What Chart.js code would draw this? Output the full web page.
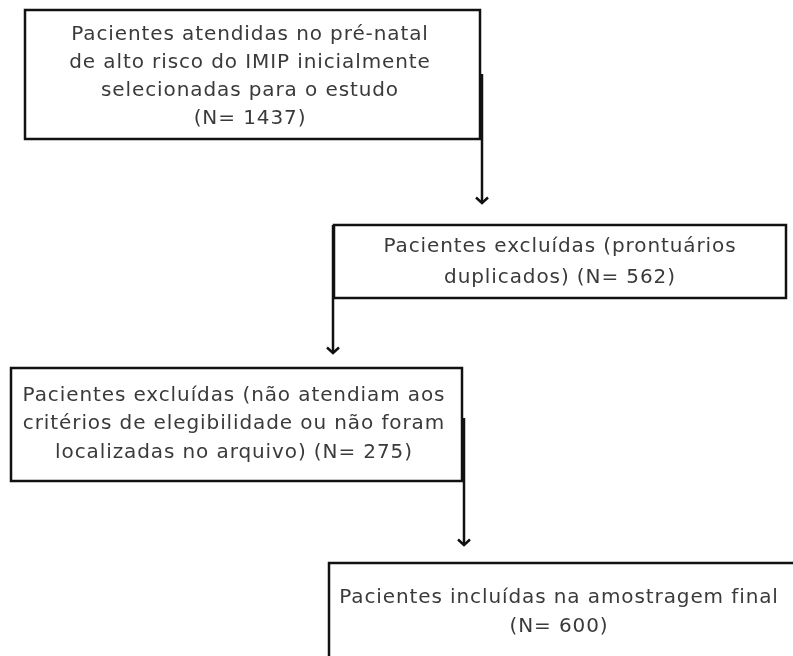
<!DOCTYPE html>
<html>
<head>
<meta charset="utf-8">
<script src="https://cdn.jsdelivr.net/npm/chart.js@4.4.1/dist/chart.umd.min.js"></script>
<style>
    html, body { margin: 0; padding: 0; background: #fff; }
    #wrap { width: 793px; height: 656px; }
</style>
</head>
<body>
<div id="wrap"><canvas id="flow"></canvas></div>
<script>
// texto de cada caixa (linhas como no original)
const boxLines = [
    ["Pacientes atendidas no pré-natal", "de alto risco do IMIP inicialmente", "selecionadas para o estudo"],
    ["Pacientes excluídas (prontuários", "duplicados)"],
    ["Pacientes excluídas (não atendiam aos", "critérios de elegibilidade ou não foram", "localizadas no arquivo)"],
    ["Pacientes incluídas na amostragem final"],
];
const boxCounts = [1437, 562, 275, 600];
// N vai na mesma linha (inline) ou numa linha nova
const countInline = [false, true, true, false];

// layout das caixas, em unidades da escala (0..793 x 0..656)
const boxes = [
    { x0: 25, y0: 10, x1: 480, y1: 139, cx: 250, cy: 77, lh: 28 },
    { x0: 334, y0: 225, x1: 786, y1: 298, cx: 560, cy: 262, lh: 31 },
    { x0: 11, y0: 368, x1: 462, y1: 481, cx: 234, cy: 424, lh: 28.5 },
    { x0: 329, y0: 563, x1: 820, y1: 700, cx: 559, cy: 612, lh: 29 },
];
// conectores: x, y inicial, y final (ponta da seta)
const arrows = [
    { x: 482, y0: 74, y1: 204 },
    { x: 333, y0: 225, y1: 354 },
    { x: 464, y0: 418, y1: 546 },
];

const flowPlugin = {
    id: "flowDraw",
    afterDraw(chart) {
        const { ctx, scales } = chart;
        const px = (v) => scales.x.getPixelForValue(v);
        const py = (v) => scales.y.getPixelForValue(v);
        ctx.save();

        // caixas
        ctx.strokeStyle = "#111";
        ctx.lineWidth = 2.5;
        boxes.forEach((b) => {
            ctx.strokeRect(px(b.x0), py(b.y0), px(b.x1) - px(b.x0), py(b.y1) - py(b.y0));
        });

        // setas
        ctx.lineWidth = 2.5;
        ctx.lineCap = "butt";
        arrows.forEach((a) => {
            const x = px(a.x);
            ctx.beginPath();
            ctx.moveTo(x, py(a.y0));
            ctx.lineTo(x, py(a.y1) - 1);
            ctx.stroke();
            ctx.beginPath();
            ctx.lineJoin = "miter";
            ctx.moveTo(x - 6, py(a.y1) - 6.5);
            ctx.lineTo(x, py(a.y1) - 1);
            ctx.lineTo(x + 6, py(a.y1) - 6.5);
            ctx.stroke();
        });

        // textos
        ctx.fillStyle = "#3a3a3a";
        ctx.font = "20px 'DejaVu Sans'";
        ctx.letterSpacing = "0.9px";
        ctx.textAlign = "center";
        ctx.textBaseline = "middle";
        boxes.forEach((b, i) => {
            const lines = boxLines[i].slice();
            const n = "(N= " + boxCounts[i] + ")";
            if (countInline[i]) {
                lines[lines.length - 1] += " " + n;
            } else {
                lines.push(n);
            }
            const start = b.cy - ((lines.length - 1) * b.lh) / 2;
            lines.forEach((t, k) => {
                ctx.fillText(t, px(b.cx), py(start + k * b.lh));
            });
        });
        ctx.restore();
    },
};

new Chart(document.getElementById("flow"), {
    type: "scatter",
    data: { datasets: [] },
    options: {
        responsive: true,
        maintainAspectRatio: false,
        animation: false,
        layout: { padding: 0 },
        scales: {
            x: { type: "linear", min: 0, max: 793, display: false },
            y: { type: "linear", min: 0, max: 656, reverse: true, display: false },
        },
        plugins: {
            legend: { display: false },
            tooltip: { enabled: false },
        },
    },
    plugins: [flowPlugin],
});
</script>
</body>
</html>
